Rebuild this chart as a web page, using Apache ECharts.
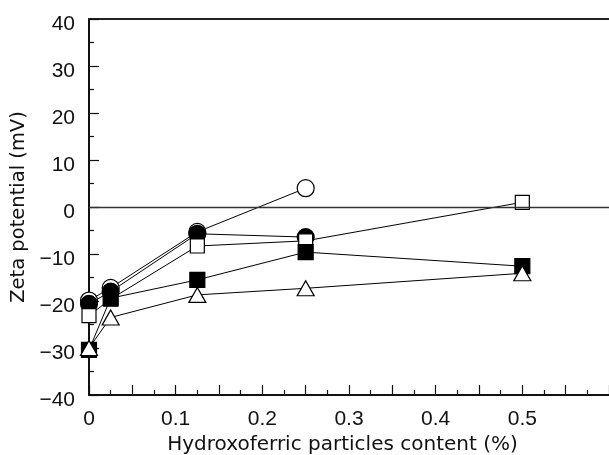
<!DOCTYPE html>
<html>
<head>
<meta charset="utf-8">
<script src="https://cdn.jsdelivr.net/npm/echarts@6/dist/echarts.min.js"></script>
<style>
html,body{margin:0;padding:0;background:#fff;}
#c{width:609px;height:455px;}
</style>
</head>
<body>
<div id="c"></div>
<script>
// ---- data ----
var xValues = [0, 0.025, 0.125, 0.25, 0.5];
var openCircle   = [-19.9, -17.2, -5.3, 4.0];
var filledCircle = [-20.6, -18.0, -5.7, -6.4];
var openSquare   = [-23.1, -19.6, -8.3, -7.2, 1.0];
var filledSquare = [-30.4, -19.4, -15.5, -9.6, -12.6];
var openTriangle = [-30.0, -23.5, -18.7, -17.3, -14.1];
var xTickValues = [0, 0.1, 0.2, 0.3, 0.4, 0.5];
var xTickLabels = ['0', '0.1', '0.2', '0.3', '0.4', '0.5'];
var yTickValues = [-40, -30, -20, -10, 0, 10, 20, 30, 40];
var yTickLabels = ['\u221240', '\u221230', '\u221220', '\u221210', '0', '10', '20', '30', '40'];
var xTitle = 'Hydroxoferric particles content (%)';
var yTitle = 'Zeta potential (mV)';

function pairs(ys) {
  return ys.map(function (y, i) { return [xValues[i], y]; });
}
function lookup(vals, labels, v) {
  for (var i = 0; i < vals.length; i++) {
    if (Math.abs(vals[i] - v) < 1e-6) return labels[i];
  }
  return '';
}

var chart = echarts.init(document.getElementById('c'), null, {renderer: 'canvas'});
var tickFont = 'Liberation Sans';
var titleFont = 'DejaVu Sans';

function mkSeries(name, ys, symbol, size, filled, extra) {
  var s = {
    name: name,
    type: 'line',
    data: pairs(ys),
    symbol: symbol,
    symbolSize: size,
    showAllSymbol: true,
    lineStyle: {color: '#000', width: 1},
    itemStyle: {color: filled ? '#000' : '#fff', borderColor: '#000', borderWidth: 1.2, opacity: 1},
    emphasis: {disabled: true},
    animation: false
  };
  if (extra) for (var k in extra) s[k] = extra[k];
  return s;
}

var option = {
  animation: false,
  backgroundColor: '#fff',
  grid: {left: 89, right: 0, top: 19, bottom: 60, containLabel: false, outerBoundsMode: 'none'},
  xAxis: [{
    type: 'value',
    min: 0, max: 0.6, interval: 0.05,
    position: 'bottom',
    axisLine: {show: true, onZero: false, lineStyle: {color: '#111', width: 2}},
    axisTick: {show: true, inside: true, length: 10, lineStyle: {color: '#111', width: 1.2}},
    minorTick: {show: true, splitNumber: 2, length: 5, lineStyle: {color: '#111', width: 1.2}},
    splitLine: {show: false},
    minorSplitLine: {show: false},
    axisLabel: {
      show: true, margin: 14, color: '#111', fontSize: 21, fontFamily: tickFont,
      showMinLabel: true, showMaxLabel: true,
      formatter: function (v) { return lookup(xTickValues, xTickLabels, v); }
    },
    name: xTitle,
    nameLocation: 'middle',
    nameGap: 37,
    nameTextStyle: {color: '#111', fontSize: 20, fontFamily: titleFont, padding: [0, 13, 0, 0]}
  }, {
    type: 'value',
    min: 0, max: 0.6,
    position: 'top',
    axisLine: {show: true, onZero: false, lineStyle: {color: '#222', width: 1.8}},
    axisTick: {show: false},
    axisLabel: {show: false},
    splitLine: {show: false}
  }],
  yAxis: {
    type: 'value',
    min: -40, max: 40, interval: 10,
    axisLine: {show: true, onZero: false, lineStyle: {color: '#111', width: 2}},
    axisTick: {show: true, inside: true, length: 10, lineStyle: {color: '#111', width: 1.2}},
    minorTick: {show: true, splitNumber: 2, length: 5, lineStyle: {color: '#111', width: 1.2}},
    splitLine: {show: false},
    minorSplitLine: {show: false},
    axisLabel: {
      show: true, margin: 14, color: '#111', fontSize: 21, fontFamily: tickFont,
      showMinLabel: true, showMaxLabel: true,
      formatter: function (v) { return '{a|' + lookup(yTickValues, yTickLabels, v) + '}'; },
      rich: {a: {fontSize: 21, fontFamily: tickFont, color: '#111', padding: [11, 0, 0, 0]}}
    },
    name: yTitle,
    nameLocation: 'middle',
    nameGap: 57,
    nameRotate: 90,
    nameTextStyle: {color: '#111', fontSize: 19.5, fontFamily: titleFont}
  },
  series: [
    mkSeries('openCircle', openCircle, 'circle', 17, false, {
      markLine: {
        silent: true, symbol: 'none', animation: false,
        label: {show: false},
        lineStyle: {color: '#333', width: 1.4, type: 'solid'},
        data: [{yAxis: 0}]
      }
    }),
    mkSeries('filledCircle', filledCircle, 'circle', 17, true),
    mkSeries('openSquare', openSquare, 'rect', 14, false),
    mkSeries('filledSquare', filledSquare, 'rect', 15, true),
    mkSeries('openTriangle', openTriangle, 'triangle', [17, 15], false)
  ]
};
chart.setOption(option);
</script>
</body>
</html>
